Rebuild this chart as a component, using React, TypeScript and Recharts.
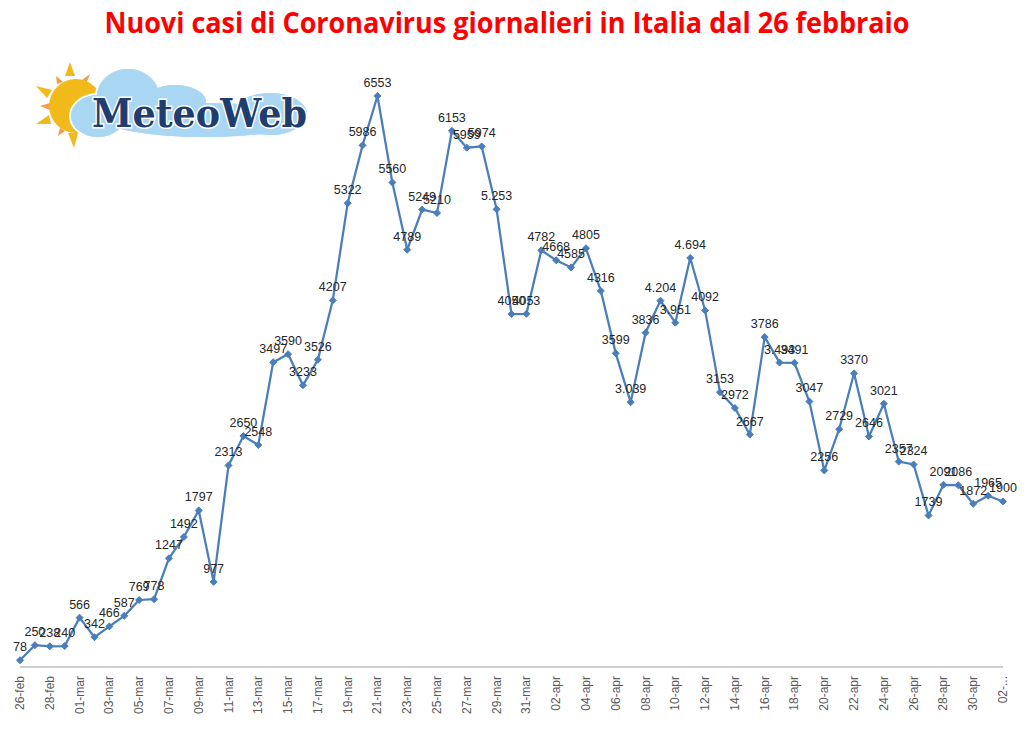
import { LineChart, Line, XAxis, YAxis, LabelList } from 'recharts'

const dates = [
  '26-feb', '27-feb', '28-feb', '29-feb',
  '01-mar', '02-mar', '03-mar', '04-mar', '05-mar', '06-mar', '07-mar', '08-mar', '09-mar', '10-mar',
  '11-mar', '12-mar', '13-mar', '14-mar', '15-mar', '16-mar', '17-mar', '18-mar', '19-mar', '20-mar',
  '21-mar', '22-mar', '23-mar', '24-mar', '25-mar', '26-mar', '27-mar', '28-mar', '29-mar', '30-mar',
  '31-mar',
  '01-apr', '02-apr', '03-apr', '04-apr', '05-apr', '06-apr', '07-apr', '08-apr', '09-apr', '10-apr',
  '11-apr', '12-apr', '13-apr', '14-apr', '15-apr', '16-apr', '17-apr', '18-apr', '19-apr', '20-apr',
  '21-apr', '22-apr', '23-apr', '24-apr', '25-apr', '26-apr', '27-apr', '28-apr', '29-apr', '30-apr',
  '01-mag', '02-mag',
]

const nuoviCasi = [
  78, 250, 238, 240,
  566, 342, 466, 587, 769, 778, 1247, 1492, 1797, 977,
  2313, 2650, 2548, 3497, 3590, 3233, 3526, 4207, 5322, 5986,
  6553, 5560, 4789, 5249, 5210, 6153, 5959, 5974, 5253, 4050,
  4053,
  4782, 4668, 4585, 4805, 4316, 3599, 3039, 3836, 4204, 3951,
  4694, 4092, 3153, 2972, 2667, 3786, 3493, 3491, 3047, 2256,
  2729, 3370, 2646, 3021, 2357, 2324, 1739, 2091, 2086, 1872,
  1965, 1900,
]

// giorni in cui l'etichetta usa il punto come separatore delle migliaia
const dottedDates = ['29-mar', '07-apr', '09-apr', '10-apr', '11-apr', '17-apr']

const data = dates.map((d, i) => ({ giorno: d, casi: nuoviCasi[i] }))

const BLUE = '#4a7ebb'

const Diamond = (props: any) => {
  const { cx, cy } = props
  if (cx == null || cy == null) return null
  return (
    <path
      d={`M${cx},${cy - 3.5}L${cx + 3.5},${cy}L${cx},${cy + 3.5}L${cx - 3.5},${cy}Z`}
      fill={BLUE}
      stroke={BLUE}
    />
  )
}

const fmt = (v: number, i: number) => {
  if (dottedDates.includes(dates[i])) {
    const s = String(v)
    return s.slice(0, s.length - 3) + '.' + s.slice(-3)
  }
  return String(v)
}

const ValueLabel = (props: any) => {
  const { x, y, value, index } = props
  return (
    <text
      x={x}
      y={y - 9}
      textAnchor="middle"
      fontFamily="Liberation Sans, Arial, sans-serif"
      fontSize={12.5}
      fill="#262626"
    >
      {fmt(value, index)}
    </text>
  )
}

const DateTick = (props: any) => {
  const { x, y, payload } = props
  const label = payload.value === dates[dates.length - 1]
    ? payload.value.slice(0, 3) + '...'
    : payload.value
  return (
    <text
      transform={`translate(${x + 4},${y + 1}) rotate(-90)`}
      textAnchor="end"
      fontFamily="Liberation Sans, Arial, sans-serif"
      fontSize={12}
      fill="#595959"
    >
      {label}
    </text>
  )
}

const Logo = () => (
  <svg width={330} height={160} style={{ position: 'absolute', left: 0, top: 0 }}>
    {/* sole */}
    <g fill="#f2b91a">
      <polygon points="70,62 75,76 65,76" />
      <polygon points="36,86 52,90 47,98" />
      <polygon points="36,124 49,115 51,124" />
      <polygon points="74,148 68,133 78,133" />
    </g>
    <g fill="#f39a4c">
      <polygon points="56,76 63,82 57,84" />
      <polygon points="90,74 86,84 82,80" />
      <polygon points="40,106 50,103 50,110" />
      <polygon points="58,136 60,128 65,131" />
    </g>
    <circle cx={76} cy={106} r={27} fill="#f2b91a" />
    {/* nuvola */}
    <g fill="#a9d7f3" stroke="#ffffff" strokeWidth={2}>
      <ellipse cx={98} cy={116} rx={28} ry={22} />
      <ellipse cx={128} cy={96} rx={32} ry={28} />
      <ellipse cx={175} cy={102} rx={32} ry={18} />
      <ellipse cx={270} cy={114} rx={38} ry={22} />
      <ellipse cx={205} cy={120} rx={100} ry={18} />
    </g>
    <g fill="#a9d7f3">
      <ellipse cx={98} cy={116} rx={27} ry={21} />
      <ellipse cx={128} cy={96} rx={31} ry={27} />
      <ellipse cx={175} cy={102} rx={31} ry={17} />
      <ellipse cx={270} cy={114} rx={37} ry={21} />
      <ellipse cx={205} cy={120} rx={99} ry={17} />
    </g>
    <text
      x={92}
      y={127}
      fontFamily="DejaVu Serif, Liberation Serif, serif"
      fontWeight="bold"
      fontSize={40}
      fill="#1f3d6e"
      stroke="#ffffff"
      strokeWidth={3}
      paintOrder="stroke"
      textLength={215}
      lengthAdjust="spacingAndGlyphs"
    >
      MeteoWeb
    </text>
  </svg>
)

export default function App() {
  return (
    <div style={{ position: 'absolute', left: 0, top: 0, width: 1024, height: 741, background: '#fff' }}>
      <svg width={1024} height={50} style={{ position: 'absolute', left: 0, top: 0 }}>
        <text
          x={507}
          y={33}
          textAnchor="middle"
          fontFamily="Open Sans, Liberation Sans, sans-serif"
          fontWeight="bold"
          fontSize={28}
          fill="#ff0000"
          textLength={805}
          lengthAdjust="spacingAndGlyphs"
        >
          Nuovi casi di Coronavirus giornalieri in Italia dal 26 febbraio
        </text>
      </svg>
      <Logo />
      <div style={{ position: 'absolute', left: 0, top: 0 }}>
        <LineChart
          width={1024}
          height={741}
          data={data}
          margin={{ top: 57, right: 21, bottom: 0, left: 20 }}
        >
          <XAxis
            dataKey="giorno"
            interval={1}
            height={74}
            tickLine={false}
            axisLine={{ stroke: '#bfbfbf', strokeWidth: 1.5 }}
            tick={<DateTick />}
          />
          <YAxis hide domain={[0, 7000]} />
          <Line
            type="linear"
            dataKey="casi"
            stroke={BLUE}
            strokeWidth={2.25}
            dot={<Diamond />}
            activeDot={false}
            isAnimationActive={false}
          >
            <LabelList dataKey="casi" content={<ValueLabel />} />
          </Line>
        </LineChart>
      </div>
    </div>
  )
}
